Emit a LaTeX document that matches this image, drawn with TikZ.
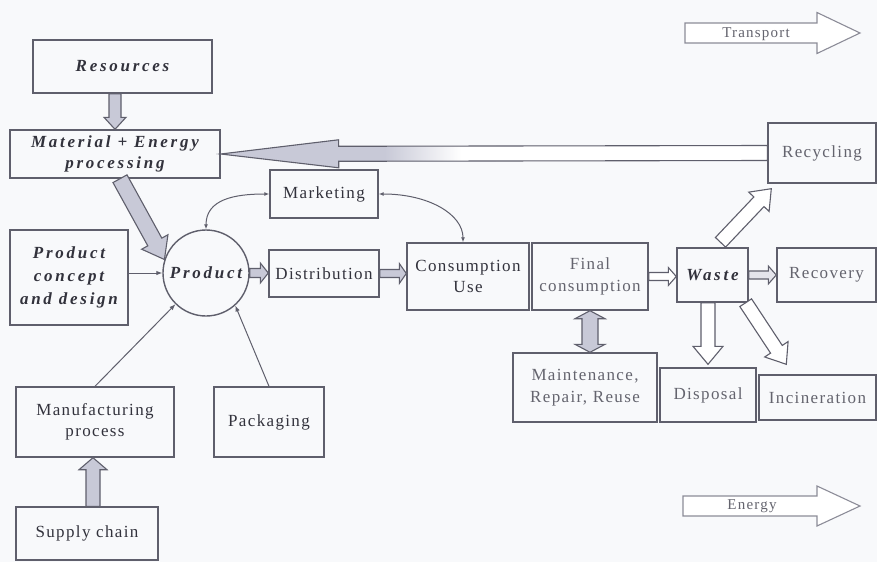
\documentclass[tikz,border=0pt]{standalone}
\usepackage{fontspec}
\setmainfont{Liberation Serif}[LetterSpace=8]
\newfontfamily\bifont{Liberation Serif}[LetterSpace=16]
\usetikzlibrary{calc,arrows.meta}
\definecolor{bgc}{RGB}{248,249,251}
\definecolor{linec}{RGB}{95,95,108}
\definecolor{legc}{RGB}{140,140,152}
\definecolor{textc}{RGB}{50,50,60}
\definecolor{textl}{RGB}{100,100,110}
\definecolor{afill}{RGB}{200,201,215}
\pgfdeclarehorizontalshading{recfade}{100bp}{color(0bp)=(afill); color(40bp)=(afill); color(47bp)=(white); color(100bp)=(white)}
\newcommand\bi{\bifont\bfseries\itshape}
% [style]{start}{end}{shaft half width}{head half width}{head length}
\newcommand\fatarrow[6][]{%
  \path (#2) coordinate (fa-s) (#3) coordinate (fa-e);
  \path ($(fa-e)!#6!(fa-s)$) coordinate (fa-h);
  \filldraw[fatstyle,#1] ($(fa-s)!#4!90:(fa-e)$) -- ($(fa-h)!#4!90:(fa-e)$) -- ($(fa-h)!#5!90:(fa-e)$) -- (fa-e) -- ($(fa-h)!#5!-90:(fa-e)$) -- ($(fa-h)!#4!-90:(fa-e)$) -- ($(fa-s)!#4!-90:(fa-e)$) -- cycle;
}
\newcommand\fatdarrow[6][]{%
  \path (#2) coordinate (fa-s) (#3) coordinate (fa-e);
  \path ($(fa-e)!#6!(fa-s)$) coordinate (fa-h) ($(fa-s)!#6!(fa-e)$) coordinate (fa-g);
  \filldraw[fatstyle,#1] (fa-s) -- ($(fa-g)!#5!90:(fa-e)$) -- ($(fa-g)!#4!90:(fa-e)$) -- ($(fa-h)!#4!90:(fa-e)$) -- ($(fa-h)!#5!90:(fa-e)$) -- (fa-e) -- ($(fa-h)!#5!-90:(fa-e)$) -- ($(fa-h)!#4!-90:(fa-e)$) -- ($(fa-g)!#4!-90:(fa-e)$) -- ($(fa-g)!#5!-90:(fa-e)$) -- cycle;
}
\tikzset{
  box/.style={draw=linec, line width=1.4pt, fill=bgc, rectangle, inner sep=1pt, align=center, text=textc, font=\fontsize{17}{21.5}\selectfont},
  lbox/.style={box, text=textl},
  fatstyle/.style={draw=linec, line width=1.1pt, line join=miter, fill=afill},
  wfat/.style={fill=white},
  legarrow/.style={draw=legc, line width=1.1pt, fill=white},
  thinarrow/.style={draw=linec, line width=1pt, -{Latex[length=6pt,width=4.5pt]}},
  dthinarrow/.style={draw=linec, line width=1pt, {Latex[length=5pt,width=4pt]}-{Latex[length=5pt,width=4pt]}},
  legtext/.style={text=textl, font=\fontsize{15}{17}\selectfont, inner sep=0pt}
}
\begin{document}
\begin{tikzpicture}[x=1pt,y=-1pt]
\fill[bgc] (0,0) rectangle (877,562);
\useasboundingbox (0,0) rectangle (877,562);

% nodes
\node[box, minimum width=179pt, minimum height=53pt] (res) at (122.5,66.5) {\bi Resources};
\node[box, minimum width=210pt, minimum height=48pt] (mat) at (115,154) {\bi Material + Energy\\\bi processing};
\node[box, minimum width=108pt, minimum height=48pt] (mkt) at (324,194) {Marketing};
\node[draw=linec, line width=1.4pt, fill=bgc, circle, minimum size=86pt, inner sep=0pt, text=textc, font=\fontsize{17}{21}\selectfont] (prod) at (206,273) {\bi Product};
\node[box, minimum width=118pt, minimum height=95pt, font=\fontsize{17}{23}\selectfont] (pcd) at (69,277.5) {\bi Product\\\bi concept\\\bi and design};
\node[box, minimum width=110pt, minimum height=47pt] (dist) at (324,273.5) {Distribution};
\node[box, minimum width=122pt, minimum height=67pt] (cons) at (468,276.5) {Consumption\\Use};
\node[lbox, minimum width=116pt, minimum height=67pt] (fin) at (590,276.5) {Final\\consumption};
\node[box, minimum width=71pt, minimum height=54pt] (waste) at (712.5,275) {\bi Waste};
\node[lbox, minimum width=99pt, minimum height=54pt] (recov) at (826.5,275) {Recovery};
\node[lbox, minimum width=108pt, minimum height=60pt] (recyc) at (822,153) {Recycling};
\node[lbox, minimum width=144pt, minimum height=69pt] (maint) at (585,387.5) {Maintenance,\\Repair, Reuse};
\node[lbox, minimum width=96pt, minimum height=54pt] (disp) at (708,395) {Disposal};
\node[lbox, minimum width=117pt, minimum height=45pt] (incin) at (817.5,397.5) {Incineration};
\node[box, minimum width=158pt, minimum height=70pt] (manuf) at (95,422) {Manufacturing\\process};
\node[box, minimum width=110pt, minimum height=70pt] (pack) at (269,422) {Packaging};
\node[box, minimum width=142pt, minimum height=53pt] (supply) at (87,533.5) {Supply chain};

% fat arrows
\fatarrow{res.south -| mat.north}{mat.north}{6pt}{11pt}{12pt}
\fatarrow{[xshift=5pt]mat.south}{prod.162}{8pt}{15pt}{20pt}
\fatarrow[shade, shading=recfade]{recyc.west}{mat.east}{7.5pt}{14pt}{118pt}
\fatarrow{prod.east}{dist.west |- prod.east}{4.5pt}{10pt}{8pt}
\fatarrow{dist.east}{cons.west |- dist.east}{4pt}{10pt}{7pt}
\fatarrow[wfat]{fin.east}{waste.west |- fin.east}{4pt}{9pt}{8pt}
\fatarrow[fill=afill!50]{waste.east}{recov.west |- waste.east}{4pt}{9pt}{8pt}
\fatarrow[wfat]{[shift={(8pt,5pt)}]waste.north}{[shift={(4pt,-5pt)}]recyc.south west}{7pt}{14pt}{18pt}
\fatarrow[wfat]{waste.south -| disp.north}{[yshift=3pt]disp.north}{7pt}{15pt}{18pt}
\fatarrow[wfat]{[xshift=-3pt]waste.south east}{[shift={(28pt,10pt)}]incin.north west}{7pt}{14pt}{18pt}
\fatdarrow{fin.south}{fin.south |- maint.north}{8pt}{15pt}{8pt}
\fatarrow{[xshift=6pt]supply.north}{[xshift=-2pt]manuf.south}{7pt}{14pt}{12pt}

% thin connectors
\draw[thinarrow] (pcd.east |- prod.west) -- (prod.west);
\draw[thinarrow] (manuf.north) -- (prod);
\draw[thinarrow] (pack.north) -- (prod.-48);
\draw[dthinarrow] (prod.north) .. controls +(0,-30) and +(-35,0) .. (mkt.west);
\draw[dthinarrow] (mkt.east) .. controls +(50,0) and +(0,-28) .. ([xshift=-5pt]cons.north);

% legend
\coordinate (trS) at (685,33);
\coordinate (trE) at (860,33);
\fatarrow[legarrow]{trS}{trE}{10pt}{20.5pt}{43pt}
\node[legtext] (trL) at (756,34) {Transport};
\coordinate (enS) at (683,506);
\coordinate (enE) at (860,506);
\fatarrow[legarrow]{enS}{enE}{10pt}{20pt}{43pt}
\node[legtext] (enL) at (752,506) {Energy};
\end{tikzpicture}
\end{document}
